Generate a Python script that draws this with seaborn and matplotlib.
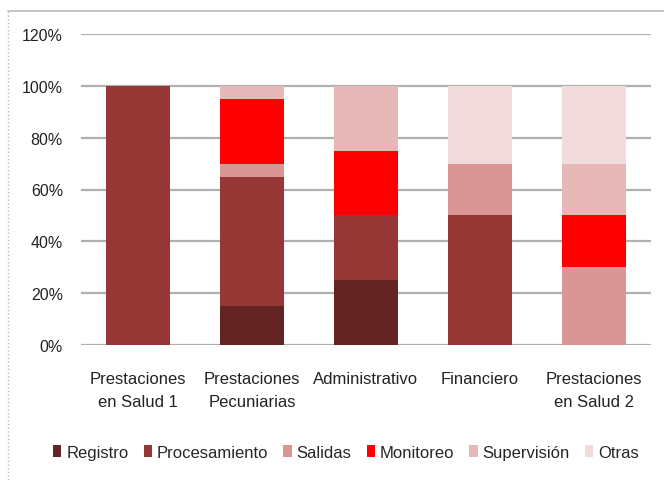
import matplotlib
matplotlib.use('Agg')
from matplotlib import pyplot as plt
from matplotlib.lines import Line2D
import numpy as np
import pandas as pd
import seaborn as sns

### DATA ###
categories = ['Prestaciones\nen Salud 1', 'Prestaciones\nPecuniarias', 'Administrativo',
              'Financiero', 'Prestaciones\nen Salud 2']
series = ['Registro', 'Procesamiento', 'Salidas', 'Monitoreo', 'Supervisión', 'Otras']
registro = [0, 15, 25, 0, 0]
procesamiento = [100, 50, 25, 50, 0]
salidas = [0, 5, 0, 20, 30]
monitoreo = [0, 25, 25, 0, 20]
supervision = [0, 5, 25, 0, 20]
otras = [0, 0, 0, 30, 30]
colors = ['#632523', '#953735', '#D99694', '#FF0000', '#E6B9B8', '#F2DCDB']

values = [registro, procesamiento, salidas, monitoreo, supervision, otras]

sns.set_style('white')
plt.rcParams['font.family'] = ['Liberation Sans', 'DejaVu Sans']

fig = plt.figure(figsize=(6.64, 4.81), dpi=100)
ax = fig.add_axes([81 / 664, 1 - 346 / 481, (651 - 81) / 664, (346 - 35) / 481])

bottom = np.zeros(len(categories))
for name, vals, col in zip(series, values, colors):
    df = pd.DataFrame({'cat': categories, 'val': vals})
    sns.barplot(data=df, x='cat', y='val', bottom=bottom, color=col, width=0.57,
                label=name, ax=ax, saturation=1, linewidth=0, zorder=3)
    bottom = bottom + np.array(vals)

ax.set_ylim(0, 120)
ax.set_xlim(-0.5, 4.5)
ax.set_yticks(range(0, 121, 20))
ax.set_yticklabels([f'{v}%' for v in range(0, 121, 20)], fontsize=11.5, color='#222222')
ax.tick_params(axis='x', labelsize=12, colors='#222222', pad=19, length=0)
ax.tick_params(axis='y', length=0, pad=13)
ax.set_xlabel('')
ax.set_ylabel('')
for lab in ax.get_xticklabels():
    lab.set_linespacing(1.65)
ax.yaxis.grid(True, color='#B0B0B0', linewidth=1.6, zorder=0)
for s in ax.spines.values():
    s.set_visible(False)

leg = ax.legend(loc='center', bbox_to_anchor=(0.465, -0.345), ncol=6, frameon=False,
                fontsize=12, handlelength=0.5, handleheight=0.8, handletextpad=0.3,
                columnspacing=0.9)

# outer chart frame
fig.add_artist(Line2D([8 / 664, 1], [1 - 12 / 481] * 2, color='#BBBBBB', linewidth=1.2))
fig.add_artist(Line2D([8 / 664] * 2, [0, 1 - 12 / 481], color='#BBBBBB', linewidth=1,
                      linestyle=':'))

fig.savefig('out.png', dpi=100)
